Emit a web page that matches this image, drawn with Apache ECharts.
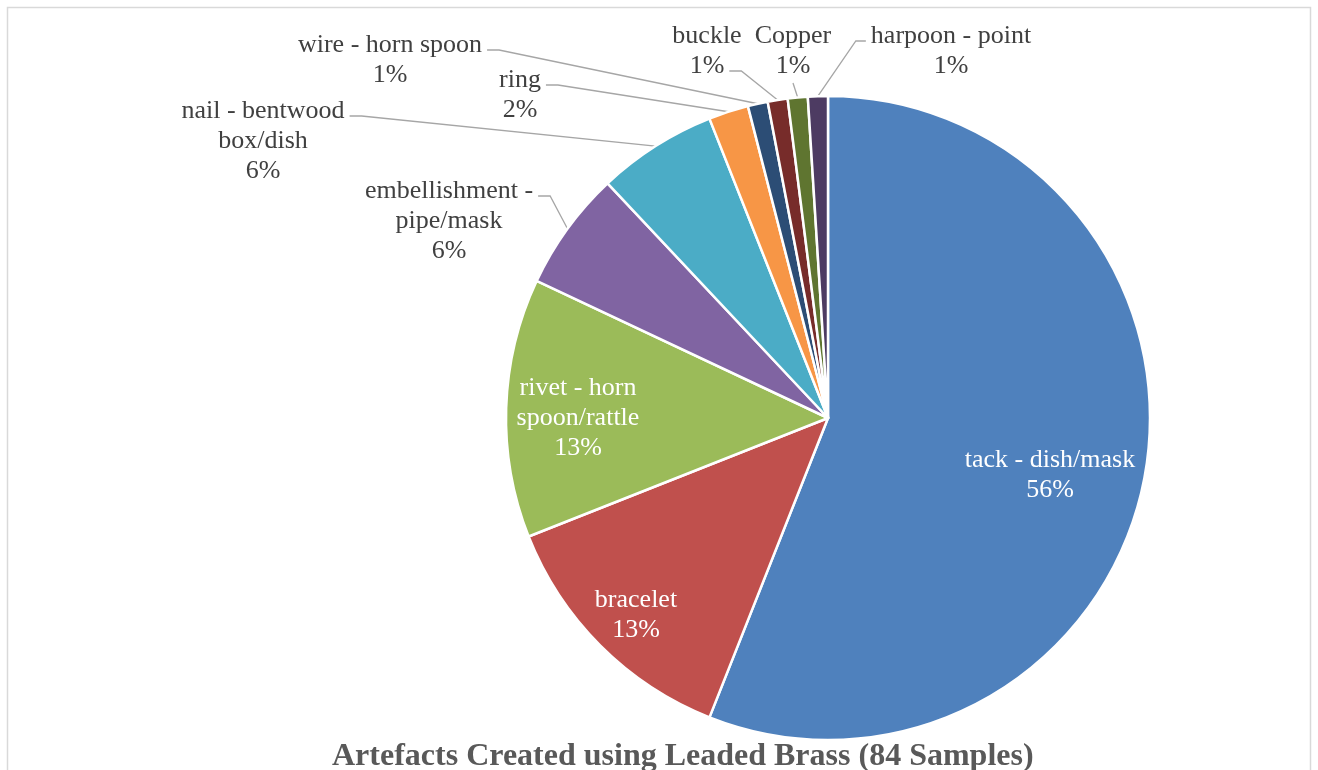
<!DOCTYPE html>
<html>
<head>
<meta charset="utf-8">
<script src="https://cdn.jsdelivr.net/npm/echarts@6/dist/echarts.min.js"></script>
<style>
  html, body { margin: 0; padding: 0; background: #ffffff; }
  #chart { width: 1318px; height: 770px; }
</style>
</head>
<body>
<div id="chart"></div>
<script>
// Artefact categories (line breaks are where the label text wraps)
const categories = [
  'tack - dish/mask',
  'bracelet',
  'rivet - horn\nspoon/rattle',
  'embellishment -\npipe/mask',
  'nail - bentwood\nbox/dish',
  'ring',
  'wire - horn spoon',
  'buckle',
  'Copper',
  'harpoon - point'
];

// Share of samples, in percent
const shares = [56, 13, 13, 6, 6, 2, 1, 1, 1, 1];

const sliceColors = [
  '#4F81BD', '#C0504D', '#9BBB59', '#8064A2', '#4BACC6',
  '#F79646', '#2C4D75', '#772C2A', '#5F7530', '#4D3B62'
];

// Which labels sit inside their slice
const insideLabel = [true, true, true, false, false, false, false, false, false, false];

// Label box centres in the chart area [x, y]
const labelCentres = [
  [1050, 475], [636, 615], [578, 418], [449, 221], [263, 141],
  [520, 95], [390, 60], [707, 51], [793, 51], [951, 51]
];

// Where each leader line leaves its label: side of the box and text line
const leaderAttach = [
  null, null, null,
  { side: 'right', line: 0 }, { side: 'right', line: 0 },
  { side: 'right', line: 0 }, { side: 'right', line: 0 },
  { side: 'right', line: 1 }, { side: 'bottom', line: 1 },
  { side: 'left', line: 0 }
];

const PIE_CX = 828, PIE_CY = 418, PIE_R = 322;
const LABEL_SIZE = 26, LABEL_LINE_H = 30;
const serif = '"Liberation Serif", "Times New Roman", serif';

const measureCtx = document.createElement('canvas').getContext('2d');
measureCtx.font = LABEL_SIZE + 'px ' + serif;

function labelText(i) {
  return categories[i] + '\n' + shares[i] + '%';
}

// Point on the rim of slice i at its middle angle (clockwise from 12 o'clock)
function rimPoint(i) {
  const total = shares.reduce((a, b) => a + b, 0);
  let before = 0;
  for (let k = 0; k < i; k++) before += shares[k];
  const a = (before + shares[i] / 2) / total * Math.PI * 2;
  return [PIE_CX + PIE_R * Math.sin(a), PIE_CY - PIE_R * Math.cos(a)];
}

const chart = echarts.init(document.getElementById('chart'), null, { renderer: 'canvas' });

const data = categories.map((name, i) => ({
  name: name,
  value: shares[i],
  itemStyle: { color: sliceColors[i] },
  label: insideLabel[i]
    ? { position: 'inside', color: '#FFFFFF' }
    : { position: 'outside', color: '#404040' },
  labelLine: { show: !insideLabel[i] }
}));

chart.setOption({
  animation: false,
  backgroundColor: '#FFFFFF',
  title: {
    text: 'Artefacts Created using Leaded Brass (84 Samples)',
    left: 327,
    top: 736,
    textStyle: {
      fontFamily: serif,
      fontWeight: 'bold',
      fontSize: 32,
      color: '#595959'
    }
  },
  graphic: [{
    type: 'rect',
    silent: true,
    z: -1,
    shape: { x: 7.5, y: 7.5, width: 1303, height: 800 },
    style: { fill: 'none', stroke: '#D9D9D9', lineWidth: 1.5 }
  }],
  series: [{
    type: 'pie',
    center: [PIE_CX, PIE_CY],
    radius: PIE_R,
    startAngle: 90,
    clockwise: true,
    avoidLabelOverlap: false,
    itemStyle: { borderColor: '#FFFFFF', borderWidth: 2.5 },
    label: {
      fontFamily: serif,
      fontSize: LABEL_SIZE,
      lineHeight: LABEL_LINE_H,
      align: 'center',
      formatter: p => labelText(p.dataIndex)
    },
    labelLine: {
      length: 10,
      length2: 8,
      smooth: false,
      lineStyle: { color: '#A6A6A6', width: 1.3 }
    },
    labelLayout: function (params) {
      const i = params.dataIndex;
      const c = labelCentres[i];
      const out = { x: c[0], y: c[1], align: 'center', verticalAlign: 'middle' };
      const att = leaderAttach[i];
      if (!att) return out;

      const lines = labelText(i).split('\n');
      const boxH = lines.length * LABEL_LINE_H;
      const top = c[1] - boxH / 2;
      const lineY = top + LABEL_LINE_H * (att.line + 0.5) + 5;
      const lineW = measureCtx.measureText(lines[att.line]).width;
      const rim = rimPoint(i);
      let pts;
      if (att.side === 'right') {
        const x0 = c[0] + lineW / 2 + 5;
        pts = [[x0, lineY], [x0 + 12, lineY], rim];
      } else if (att.side === 'left') {
        const x0 = c[0] - lineW / 2 - 5;
        pts = [[x0, lineY], [x0 - 10, lineY], rim];
      } else {
        pts = [[c[0], top + boxH + 2], rim];
      }
      out.labelLinePoints = pts;
      return out;
    },
    data: data
  }]
});
</script>
</body>
</html>
